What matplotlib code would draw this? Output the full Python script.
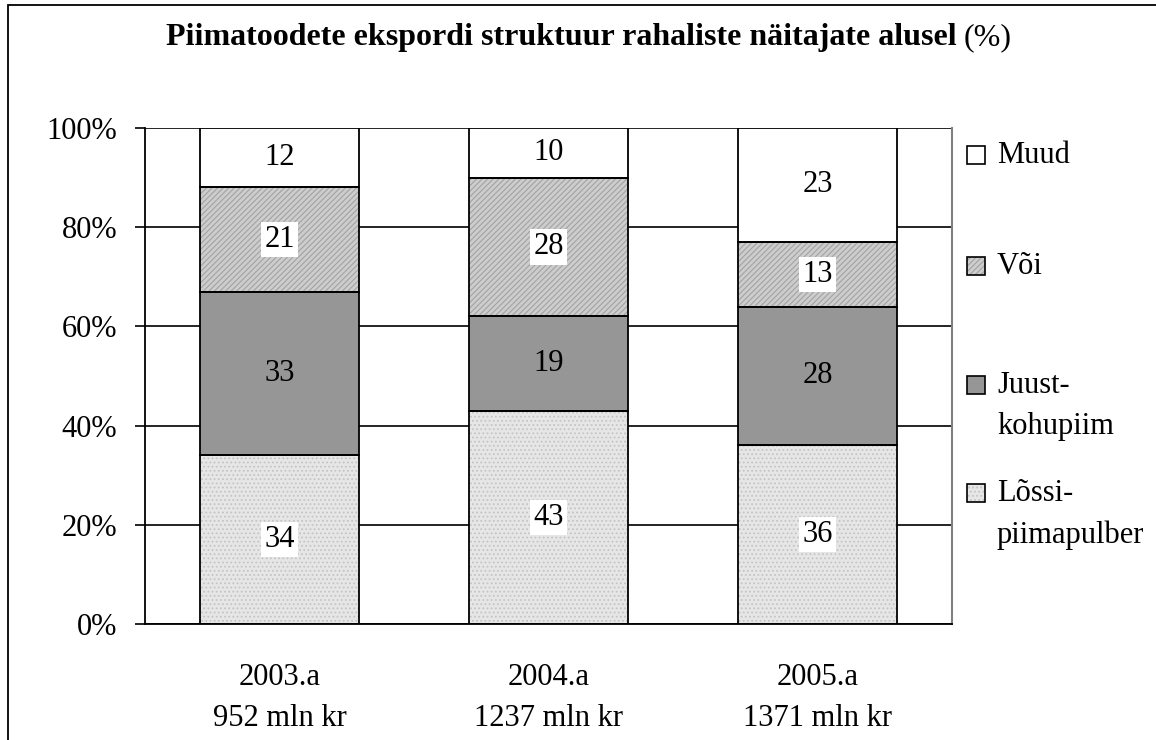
import numpy as np
import matplotlib.pyplot as plt
from matplotlib.patches import Rectangle

# data (shares in %)
years = ["2003.a\n952 mln kr", "2004.a\n1237 mln kr", "2005.a\n1371 mln kr"]
lossi = [34, 43, 36]
juust = [33, 19, 28]
voi = [21, 28, 13]
muud = [12, 10, 23]

series = [
    ("Lõssi-\npiimapulber", lossi, "#e6e6e6", "#c4c4c4", "....", True),
    ("Juust-\nkohupiim", juust, "#969696", None, None, False),
    ("Või", voi, "#cdcdcd", "#a2a2a2", "//////", True),
    ("Muud", muud, "#ffffff", None, None, False),
]

plt.rcParams["font.family"] = ["Liberation Serif", "DejaVu Serif"]
plt.rcParams["hatch.linewidth"] = 0.8

fig = plt.figure(figsize=(11.56, 7.4), dpi=100)
ax = fig.add_axes([0.1254, 0.1568, 0.6981, 0.6703])

fs = 22
x = np.arange(len(years))
w = 0.59
bottom = np.zeros(len(years))
for name, vals, fc, hc, hatch, boxed in series:
    if hatch:
        bars = ax.bar(x, vals, w, bottom=bottom, color=fc, edgecolor=hc,
                      hatch=hatch, linewidth=0, zorder=2)
    else:
        bars = ax.bar(x, vals, w, bottom=bottom, color=fc, linewidth=0, zorder=2)
    ax.bar(x, vals, w, bottom=bottom, fill=False, edgecolor="black",
           linewidth=1.3, zorder=3)
    kw = {}
    if boxed:
        kw["bbox"] = dict(boxstyle="square,pad=0.1", fc="white", ec="none")
    ax.bar_label(bars, labels=[str(v) for v in vals], label_type="center",
                 fontsize=fs, zorder=4, **kw)
    bottom += np.array(vals)

ax.set_xlim(-0.5, 2.5)
ax.set_ylim(0, 100)
ax.set_yticks(np.arange(0, 101, 20))
ax.set_yticklabels([f"{v}%" for v in range(0, 101, 20)])
ax.set_xticks(x)
ax.set_xticklabels(years, linespacing=1.55)
ax.tick_params(axis="y", labelsize=fs, length=7, width=1.2, pad=13)
ax.tick_params(axis="x", labelsize=fs, length=0, pad=28)
ax.yaxis.grid(True, color="black", linewidth=1.2)
ax.set_axisbelow(True)
for s in ["left", "bottom"]:
    ax.spines[s].set_linewidth(1.3)
ax.spines["top"].set_visible(False)
ax.spines["right"].set_color("#808080")
ax.spines["right"].set_linewidth(1.5)

# legend (placed by hand, top to bottom)
leg_items = [("Muud", "#ffffff", None, None, 0.945),
             ("Või", "#cdcdcd", "#a2a2a2", "//////", 0.722),
             ("Juust-\nkohupiim", "#969696", None, None, 0.482),
             ("Lõssi-\npiimapulber", "#e6e6e6", "#c4c4c4", "....", 0.264)]
fw, fh = fig.get_size_inches() * fig.dpi
for label, fc, hc, hatch, yc in leg_items:
    sx = 967 / fw
    sy = yc * 0.6703 + 0.1568
    bw, bh = 18 / fw, 18 / fh
    if hatch:
        fig.patches.append(Rectangle((sx, sy - bh / 2), bw, bh, transform=fig.transFigure,
                                     facecolor=fc, edgecolor=hc, hatch=hatch, linewidth=0))
    fig.patches.append(Rectangle((sx, sy - bh / 2), bw, bh, transform=fig.transFigure,
                                 facecolor=fc if not hatch else "none",
                                 edgecolor="black", linewidth=1.2))
    fig.text(997 / fw, sy + 14 / fh, label, fontsize=fs, va="top", ha="left",
             linespacing=1.55)

# title: bold part + normal "(%)"
t1 = fig.text(0.5, 1 - 38 / fh, "Piimatoodete ekspordi struktuur rahaliste näitajate alusel",
              fontsize=23, fontweight="bold", ha="center", va="center")
fig.canvas.draw()
bb = t1.get_window_extent()
shift = 17 / fw
t1.set_x(0.5 - shift)
fig.text((bb.x1 + 7) / fw - shift, 1 - 38 / fh, "(%)", fontsize=23, ha="left", va="center")

# frame around the figure
fig.patches.append(Rectangle((8 / fw, -0.1), 1.2, 1.1 - 5 / fh, transform=fig.transFigure,
                             fill=False, edgecolor="black", linewidth=1.3))

fig.savefig("out.png", dpi=100)
